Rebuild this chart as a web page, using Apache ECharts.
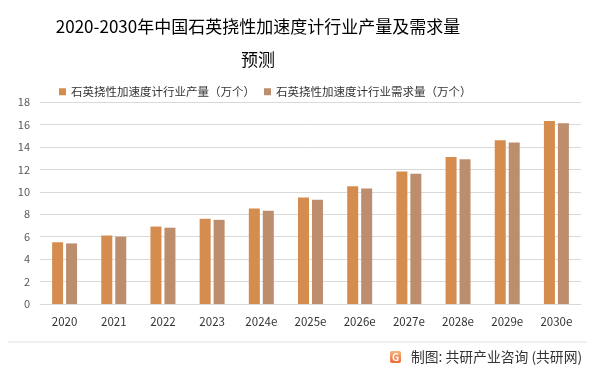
<!DOCTYPE html>
<html>
<head>
<meta charset="utf-8">
<script src="https://cdn.jsdelivr.net/npm/echarts@6/dist/echarts.min.js"></script>
<style>html,body{margin:0;padding:0;background:#fff}#c{width:600px;height:373px}</style>
</head>
<body>
<div id="c"></div>
<script>
const categories = ['2020','2021','2022','2023','2024e','2025e','2026e','2027e','2028e','2029e','2030e'];
const production = [5.5, 6.1, 6.9, 7.6, 8.5, 9.5, 10.5, 11.8, 13.1, 14.6, 16.3];
const demand = [5.4, 6.0, 6.8, 7.5, 8.3, 9.3, 10.3, 11.6, 12.9, 14.4, 16.1];
const seriesNames = ['石英挠性加速度计行业产量（万个）', '石英挠性加速度计行业需求量（万个）'];
const titleLines = ['2020-2030年中国石英挠性加速度计行业产量及需求量', '预测'];
const sourceText = '制图: 共研产业咨询 (共研网)';

const font = '"Noto Sans CJK SC", "Noto Sans", sans-serif';
const chart = echarts.init(document.getElementById('c'), null, {renderer: 'canvas'});
chart.setOption({
  animation: false,
  backgroundColor: '#fff',
  textStyle: {fontFamily: font},
  legend: {
    left: 54, top: 81,
    icon: 'rect', itemWidth: 7, itemHeight: 7, itemGap: 9, itemStyle: {borderWidth: 0},
    textStyle: {fontSize: 11.5, color: '#333', fontFamily: font},
    data: seriesNames
  },
  grid: {left: 40, right: 19, top: 102, bottom: 69, containLabel: false},
  xAxis: {
    type: 'category', data: categories,
    axisLine: {lineStyle: {color: '#d9d9d9'}},
    axisTick: {show: false},
    axisLabel: {color: '#333', fontSize: 11.5, margin: 12, fontFamily: font}
  },
  yAxis: {
    type: 'value', min: 0, max: 18, interval: 2,
    axisLine: {show: false}, axisTick: {show: false},
    splitLine: {lineStyle: {color: '#d9d9d9'}},
    axisLabel: {color: '#595959', fontSize: 11, margin: 10, fontFamily: font}
  },
  series: [
    {name: seriesNames[0], type: 'bar', data: production, barWidth: 11, barGap: '27%',
     itemStyle: {color: '#D48C4F'}},
    {name: seriesNames[1], type: 'bar', data: demand, barWidth: 11,
     itemStyle: {color: '#BC8E6D'}}
  ],
  graphic: [
    {type: 'text', x: 258, y: 27, style: {text: titleLines[0], fontSize: 17, fill: '#000', fontFamily: font, textAlign: 'center', textVerticalAlign: 'middle'}},
    {type: 'text', x: 258, y: 60, style: {text: titleLines[1], fontSize: 17, fill: '#000', fontFamily: font, textAlign: 'center', textVerticalAlign: 'middle'}},
    {type: 'line', shape: {x1: 8, y1: 342, x2: 587, y2: 342}, style: {stroke: '#e0e0e0', lineWidth: 1}},
    {type: 'rect', shape: {x: 390, y: 351, width: 11, height: 12, r: 2},
     style: {fill: new echarts.graphic.LinearGradient(0, 0, 0, 1, [{offset: 0, color: '#F7B27A'}, {offset: 1, color: '#EE6A3A'}])}},
    {type: 'text', x: 395.5, y: 357, style: {text: 'G', fontSize: 10, fontWeight: 'bold', fill: '#fff', fontFamily: font, textAlign: 'center', textVerticalAlign: 'middle'}},
    {type: 'text', x: 411, y: 357, style: {text: sourceText, fontSize: 13.8, fill: '#333', fontFamily: font, textAlign: 'left', textVerticalAlign: 'middle'}}
  ]
});
</script>
</body>
</html>
